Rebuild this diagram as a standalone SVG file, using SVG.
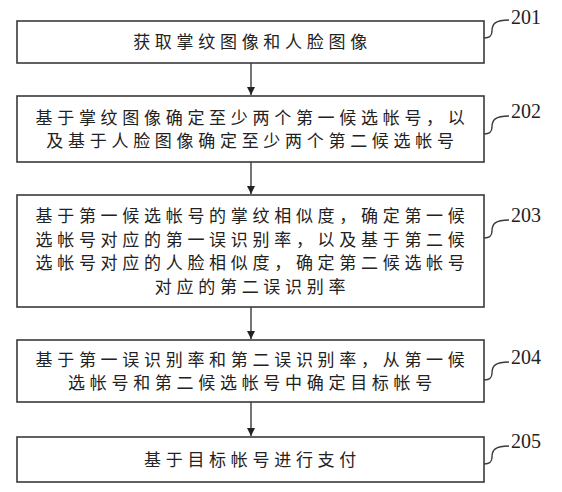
<svg xmlns="http://www.w3.org/2000/svg" width="562" height="492" viewBox="0 0 562 492">
<style>
.box{fill:#fff;stroke:#3a3a3a;stroke-width:1.6}
.t{font-family:"Noto Sans CJK SC","Noto Sans CJK JP",sans-serif;font-size:17px;letter-spacing:4.7px;fill:#222;text-anchor:middle}
.lbl{font-family:"Liberation Serif",serif;font-size:20px;fill:#222}
.sq{fill:none;stroke:#3a3a3a;stroke-width:1.4}
.c{stroke:#3a3a3a;stroke-width:1.4;fill:none}
</style>
<defs>
<marker id="ah" markerWidth="10" markerHeight="10" refX="8" refY="4" orient="auto" markerUnits="userSpaceOnUse">
<path d="M0,0 L8,4 L0,8 z" fill="#222"/>
</marker>
</defs>
<rect width="562" height="492" fill="#fff"/>
<g id="connectors">
<line class="c" x1="251" y1="63" x2="251" y2="95" marker-end="url(#ah)"/>
<line class="c" x1="251" y1="162" x2="251" y2="194" marker-end="url(#ah)"/>
<line class="c" x1="251" y1="307" x2="251" y2="339" marker-end="url(#ah)"/>
<line class="c" x1="251" y1="402" x2="251" y2="436" marker-end="url(#ah)"/>
</g>
<g id="n201">
<rect class="box" x="17" y="21" width="467" height="42"/>
<text class="t" x="252.5" y="48">获取掌纹图像和人脸图像</text>
<path class="sq" d="M484,38 C490,38 492,36 492,31 C492,24 495,20 509,20"/>
<text class="lbl" x="511" y="24">201</text>
</g>
<g id="n202">
<rect class="box" x="17" y="96" width="467" height="66"/>
<text class="t" x="252.5" y="123.5">基于掌纹图像确定至少两个第一候选帐号，以</text>
<text class="t" x="252.5" y="147">及基于人脸图像确定至少两个第二候选帐号</text>
<path class="sq" d="M484,134 C490,134 492,132 492,127 C492,120 495,116 509,116"/>
<text class="lbl" x="511" y="118">202</text>
</g>
<g id="n203">
<rect class="box" x="17" y="195" width="467" height="112"/>
<text class="t" x="252.5" y="222">基于第一候选帐号的掌纹相似度，确定第一候</text>
<text class="t" x="252.5" y="245.5">选帐号对应的第一误识别率，以及基于第二候</text>
<text class="t" x="252.5" y="269">选帐号对应的人脸相似度，确定第二候选帐号</text>
<text class="t" x="252.5" y="292.5">对应的第二误识别率</text>
<path class="sq" d="M484,238 C490,238 492,236 492,231 C492,224 495,220 509,220"/>
<text class="lbl" x="511" y="222">203</text>
</g>
<g id="n204">
<rect class="box" x="17" y="340" width="467" height="62"/>
<text class="t" x="252.5" y="365.5">基于第一误识别率和第二误识别率，从第一候</text>
<text class="t" x="252.5" y="389">选帐号和第二候选帐号中确定目标帐号</text>
<path class="sq" d="M484,380 C490,380 492,378 492,373 C492,366 495,362 509,362"/>
<text class="lbl" x="511" y="364">204</text>
</g>
<g id="n205">
<rect class="box" x="17" y="437" width="467" height="45"/>
<text class="t" x="252.5" y="466">基于目标帐号进行支付</text>
<path class="sq" d="M484,464 C490,464 492,462 492,457 C492,450 495,446 509,446"/>
<text class="lbl" x="511" y="448">205</text>
</g>
</svg>
